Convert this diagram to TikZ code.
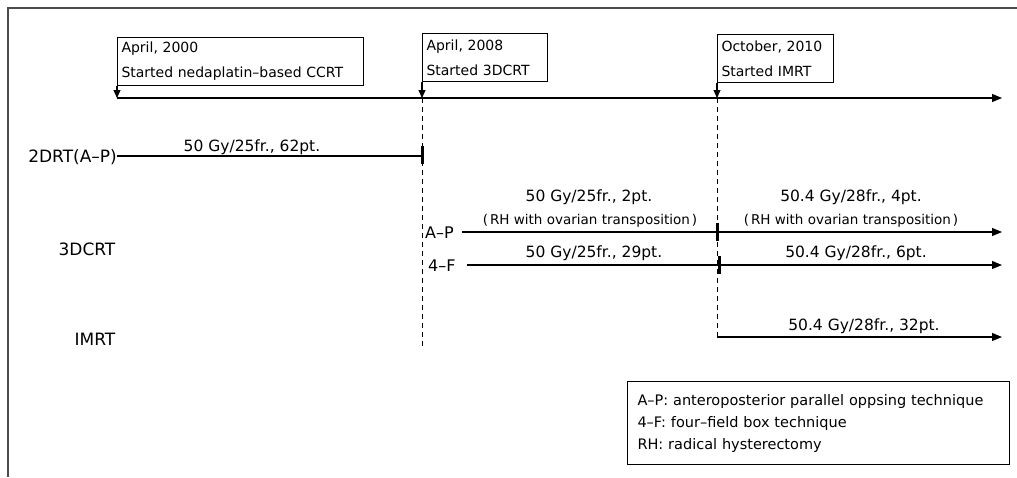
\documentclass[tikz,border=0pt]{standalone}
\usepackage{fontspec}
\setmainfont{DejaVu Sans}
\usetikzlibrary{arrows.meta}
\begin{document}
\begin{tikzpicture}[x=1pt,y=-1pt,
  every node/.style={inner sep=0pt},
  frameline/.style={line width=1.6pt, black!70},
  datebox/.style={draw, line width=1pt, anchor=north west, inner xsep=4pt, inner ysep=0pt,
    minimum height=48pt, align=left, font=\fontsize{14}{25}\selectfont},
  legendbox/.style={draw, line width=1pt, anchor=north west, inner xsep=10pt, inner ysep=0pt,
    minimum height=83pt, align=left, font=\fontsize{14.5}{22}\selectfont},
  dose/.style={anchor=base, font=\fontsize{15.5}{18}\selectfont},
  rh/.style={anchor=base, font=\fontsize{13.5}{16}\selectfont},
  rowlbl/.style={anchor=base, font=\fontsize{17}{20}\selectfont},
  techlbl/.style={anchor=base west, font=\fontsize{16}{18}\selectfont},
  arr/.style={line width=1.1pt, -{Triangle[length=10pt,width=8pt]}},
  downarr/.style={line width=1.1pt, -{Triangle[length=8pt,width=7pt]}},
  plain/.style={line width=1.1pt},
  vdash/.style={line width=1pt, dash pattern=on 5pt off 4pt},
  tick/.style={line width=3pt}
]
\useasboundingbox (0,0) rectangle (1017,477);
% outer frame (top and left edges)
\coordinate (fbl) at (8,477);
\coordinate (ftl) at (8,8);
\coordinate (ftr) at (1017,8);
\draw[frameline] (fbl) -- (ftl) -- (ftr);

% date boxes
\node[datebox, text width=238pt] (b1) at (117,37) {April, 2000\\Started nedaplatin–based CCRT};
\node[datebox, text width=117pt] (b2) at (422,33) {April, 2008\\Started 3DCRT};
\node[datebox, text width=108pt] (b3) at (717,34) {October, 2010\\Started IMRT};

% timeline
\coordinate (t1) at (117,98);
\coordinate (t2) at (422,98);
\coordinate (t3) at (717,98);
\coordinate (tend) at (1002,98);
\draw[downarr] (b1.south west) -- (t1);
\draw[downarr] (b2.south west) -- (t2);
\draw[downarr] (b3.south west) -- (t3);
\draw[arr] (t1) -- (tend);

% dashed verticals
\coordinate (d2end) at (422,347);
\coordinate (d3end) at (717,337);
\draw[vdash] (t2) -- (d2end);
\draw[vdash] (t3) -- (d3end);

% 2DRT row
\node[rowlbl, anchor=base east] (l2drt) at (117,162) {2DRT(A–P)};
\coordinate (s2d) at (117,156);
\coordinate (e2d) at (422,156);
\draw[plain] (s2d) -- (e2d);
\coordinate (k2a) at (422,146);
\coordinate (k2b) at (422,164);
\draw[tick] (k2a) -- (k2b);
\node[dose] (dose2d) at (252,151) {50 Gy/25fr., 62pt.};

% 3DCRT row
\node[rowlbl] (l3d) at (87,255) {3DCRT};
\node[techlbl] (lap) at (425,238) {A–P};
\node[techlbl] (l4f) at (428,271) {4–F};
\coordinate (sap) at (462,232);
\coordinate (eap) at (1002,232);
\coordinate (s4f) at (467,265);
\coordinate (e4f) at (1002,265);
\draw[arr] (sap) -- (eap);
\draw[arr] (s4f) -- (e4f);
\coordinate (kapa) at (717,223);
\coordinate (kapb) at (717,241);
\coordinate (k4fa) at (719,256);
\coordinate (k4fb) at (719,274);
\draw[tick] (kapa) -- (kapb);
\draw[tick] (k4fa) -- (k4fb);
\node[dose] (dap1) at (589,201) {50 Gy/25fr., 2pt.};
\node[rh] (rap1) at (590,224) {(\kern2pt RH with ovarian transposition\kern2pt)};
\node[dose] (dap2) at (851,201) {50.4 Gy/28fr., 4pt.};
\node[rh] (rap2) at (851,224) {(\kern2pt RH with ovarian transposition\kern2pt)};
\node[dose] (d4f1) at (594,257) {50 Gy/25fr., 29pt.};
\node[dose] (d4f2) at (856,257) {50.4 Gy/28fr., 6pt.};

% IMRT row
\node[rowlbl] (limrt) at (95,345) {IMRT};
\coordinate (eimrt) at (1002,337);
\draw[arr] (d3end) -- (eimrt);
\node[dose] (dimrt) at (864,330) {50.4 Gy/28fr., 32pt.};

% legend
\node[legendbox, text width=362pt] (leg) at (627,381)
  {A–P: anteroposterior parallel oppsing technique\\4–F: four–field box technique\\RH: radical hysterectomy};
\end{tikzpicture}
\end{document}
